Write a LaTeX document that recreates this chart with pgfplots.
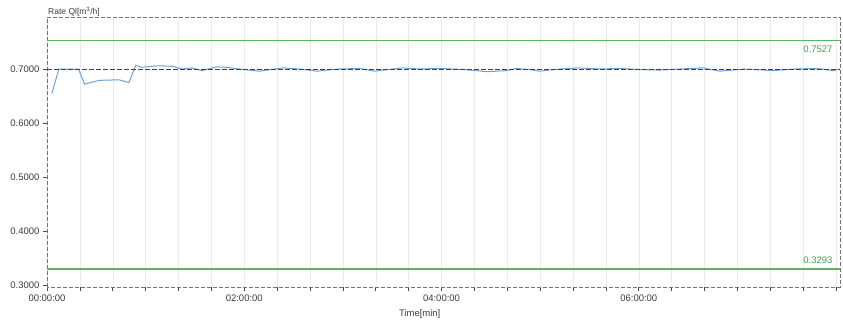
\documentclass[border=0pt]{standalone}
\usepackage{pgfplots}
\pgfplotsset{compat=1.18}
\usepackage{fontspec}
\setmainfont{Liberation Sans}
\definecolor{qblue}{RGB}{110,160,212}
\definecolor{qgreen}{RGB}{92,180,92}
\definecolor{qgtext}{RGB}{70,160,80}
\definecolor{qtext}{RGB}{60,60,60}
\begin{document}
\begin{tikzpicture}[x=1pt,y=1pt]
\path[use as bounding box] (0,0) rectangle (843,321);
\begin{axis}[
  at={(47pt,34pt)}, anchor=south west,
  scale only axis, width=793pt, height=270pt,
  xmin=0, xmax=8.04, ymin=0.2963, ymax=0.7963,
  axis lines=box,
  axis line style={dash pattern=on 4pt off 2pt, black!55, line width=0.8pt},
  xtick pos=bottom, ytick pos=left, tick align=outside,
  major tick length=4pt, minor tick length=4pt,
  tick style={black!70, solid, line width=0.6pt},
  xtick={0,2,4,6},
  xticklabels={00:00:00,02:00:00,04:00:00,06:00:00},
  minor xtick={0.3333,0.6667,1,1.3333,1.6667,2.3333,2.6667,3,3.3333,3.6667,4.3333,4.6667,5,5.3333,5.6667,6.3333,6.6667,7,7.3333,7.6667,8},
  xminorgrids=true, xmajorgrids=true,
  grid style={black!8, line width=0.5pt},
  ytick={0.3,0.4,0.5,0.6,0.7},
  yticklabel style={/pgf/number format/.cd, fixed, fixed zerofill, precision=4, assume math mode=true},
  ticklabel style={font=\fontsize{9.5}{10}\selectfont, text=qtext},
  xlabel={Time[min]}, xlabel style={font=\fontsize{9.5}{10}\selectfont, text=qtext, at={(axis description cs:0.47,0)}, anchor=north, yshift=-19pt},
  clip=false,
]
\addplot[color=qgreen, line width=1.5pt] coordinates {(0,0.7527) (8.04,0.7527)};
\addplot[color=qgreen, line width=1.5pt] coordinates {(0,0.3293) (8.04,0.3293)};
\addplot[color=qblue, line width=1pt] coordinates {
(0.05,0.655) (0.12,0.700) (0.32,0.700) (0.38,0.672) (0.53,0.679) (0.73,0.680)
(0.83,0.675) (0.90,0.707) (0.96,0.703) (1.11,0.706) (1.27,0.705) (1.37,0.700)
(1.47,0.702) (1.57,0.697) (1.72,0.704) (1.82,0.703) (1.95,0.700) (2.15,0.696)
(2.39,0.702) (2.56,0.700) (2.74,0.696) (2.96,0.700) (3.17,0.701) (3.32,0.696)
(3.60,0.702) (3.78,0.700) (3.98,0.701) (4.23,0.699) (4.46,0.695) (4.66,0.697)
(4.76,0.701) (4.89,0.699) (4.99,0.696) (5.20,0.700) (5.40,0.702) (5.60,0.700)
(5.81,0.701) (6.01,0.699) (6.21,0.698) (6.42,0.700) (6.65,0.702) (6.82,0.696)
(7.08,0.700) (7.36,0.697) (7.58,0.700) (7.81,0.701) (7.97,0.697) (8.04,0.700)};
\addplot[color=black!75, dash pattern=on 5pt off 2pt, line width=1pt] coordinates {(0,0.7) (8.04,0.7)};
\node[anchor=north east, text=qgtext, font=\fontsize{9.5}{10}\selectfont] at (axis cs:8.0,0.7485) {0.7527};
\node[anchor=south east, text=qgtext, font=\fontsize{9.5}{10}\selectfont] at (axis cs:8.0,0.3335) {0.3293};
\node[anchor=south west, text=qtext, font=\fontsize{8.5}{9}\selectfont, inner sep=1pt] at (axis description cs:0,1) {Rate Ql[m\textsuperscript{3}/h]};
\end{axis}
\end{tikzpicture}
\end{document}
